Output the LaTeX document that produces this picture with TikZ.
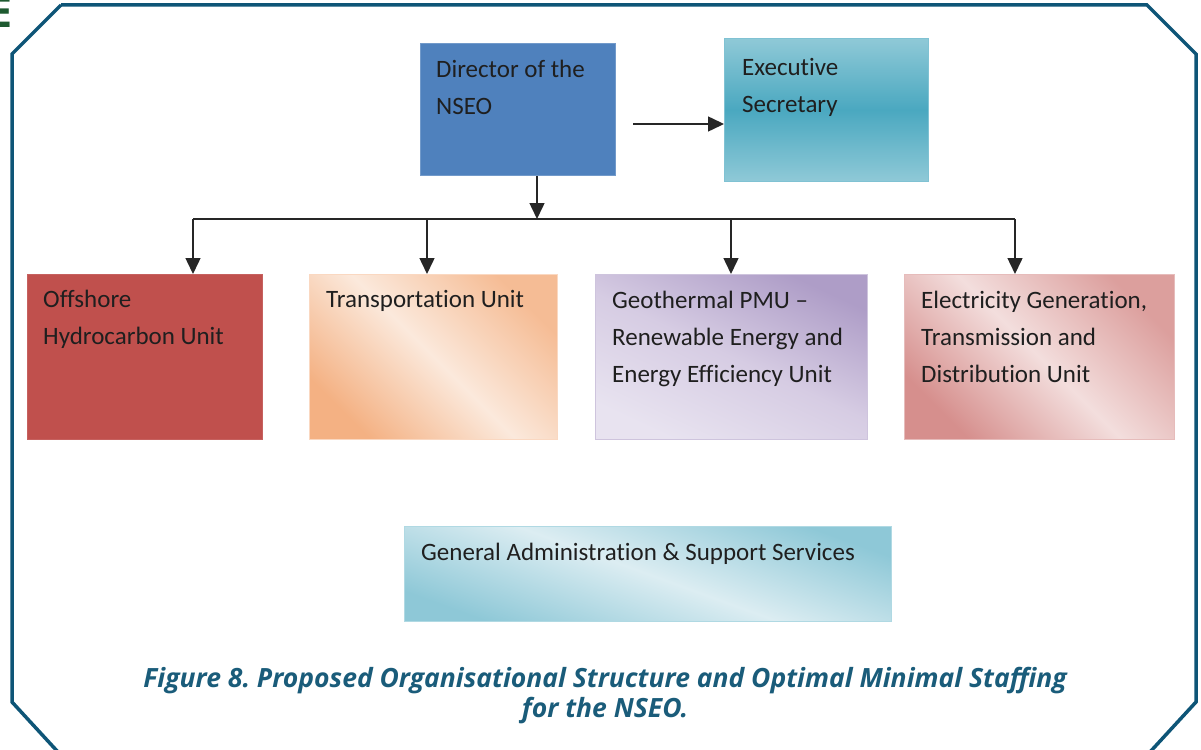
\documentclass[tikz,border=0pt]{standalone}
\usepackage{fontspec}
\setmainfont{Carlito}[Ligatures=NoCommon]
\newfontfamily\capfont{Open Sans}
\usetikzlibrary{arrows.meta}
\frenchspacing
\definecolor{framecol}{HTML}{0E5577}
\definecolor{capcol}{HTML}{1A5C7A}
\definecolor{egreen}{HTML}{1E5A30}
\definecolor{dirblue}{HTML}{4F81BD}
\definecolor{offred}{HTML}{C0504D}
\definecolor{execmid}{HTML}{4AA8C0}
\definecolor{execlight}{HTML}{8FC9D7}
\definecolor{transdark}{HTML}{F4B183}
\definecolor{translight}{HTML}{FBE9DC}
\definecolor{geodark}{HTML}{AE9DC7}
\definecolor{geomid}{HTML}{D6CCE3}
\definecolor{geolight}{HTML}{E8E3F0}
\definecolor{elecdark}{HTML}{D68F8D}
\definecolor{eleclight}{HTML}{F3DEDD}
\definecolor{gendark}{HTML}{8EC8D7}
\definecolor{genlight}{HTML}{DCEDF2}
\tikzset{
  box/.style={rectangle, anchor=north west, inner sep=0pt, line width=0.8pt},
  txt/.style={anchor=north west, inner sep=0pt, align=left, text=black!88,
              font=\fontsize{25}{37}\selectfont},
  conn/.style={draw=black!85, line width=1.5pt},
  arr/.style={conn, -{Triangle[length=16pt,width=15pt]}},
  frameline/.style={draw=framecol, line width=3.5pt, line join=miter}
}
\begin{document}
\begin{tikzpicture}[x=1pt,y=-1pt]
\useasboundingbox (0,0) rectangle (1201,749);
% frame
\draw[frameline] (61,5) -- (1147,5) -- (1196,54) -- (1196,702) -- (1150,752);
\draw[frameline] (61,5) -- (12,54) -- (12,702) -- (58,752);
\node[anchor=base east, inner sep=0pt, text=egreen,
      font=\capfont\bfseries\fontsize{43}{43}\selectfont] (eletter) at (13,28) {E};
% boxes
\node[box, fill=dirblue, draw=dirblue!80!white, minimum width=195pt, minimum height=132pt] (dir) at (420,43) {};
\node[box, top color=execlight, bottom color=execlight, middle color=execmid, draw=execmid!70!white, minimum width=204pt, minimum height=143pt] (exec) at (724,38) {};
\node[box, fill=offred, draw=offred!90!white, minimum width=235pt, minimum height=165pt] (off) at (27,274) {};
\node[box, top color=transdark, bottom color=transdark!80!translight, middle color=translight, shading angle=135, draw=transdark!50!white, minimum width=248pt, minimum height=165pt] (trans) at (309,274) {};
\node[box, top color=geodark, bottom color=geolight, middle color=geomid, shading angle=-25, draw=geodark!60!white, minimum width=272pt, minimum height=165pt] (geo) at (595,274) {};
\node[box, top color=elecdark, bottom color=elecdark!80!eleclight, middle color=eleclight, shading angle=135, draw=elecdark!60!white, minimum width=270pt, minimum height=165pt] (elec) at (904,274) {};
\node[box, top color=gendark, bottom color=gendark, middle color=genlight, shading angle=160, draw=gendark!70!white, minimum width=487pt, minimum height=95pt] (gen) at (404,526) {};
% texts
\node[txt] (dirT) at ([xshift=16pt,yshift=-17pt]dir.north west) {Director of the\\NSEO};
\node[txt] (execT) at ([xshift=18pt,yshift=-20pt]exec.north west) {Executive\\Secretary};
\node[txt] (offT) at ([xshift=16pt,yshift=-16pt]off.north west) {Offshore\\Hydrocarbon Unit};
\node[txt] (transT) at ([xshift=17pt,yshift=-16pt]trans.north west) {Transportation Unit};
\node[txt] (geoT) at ([xshift=17pt,yshift=-17pt]geo.north west) {Geothermal PMU --\\Renewable Energy and\\Energy Efficiency Unit};
\node[txt] (elecT) at ([xshift=17pt,yshift=-17pt]elec.north west) {Electricity Generation,\\Transmission and\\Distribution Unit};
\node[txt] (genT) at ([xshift=17pt,yshift=-17pt]gen.north west) {General Administration \& Support Services};
% connectors
\coordinate (ea) at (633,124);
\draw[arr] (ea) -- (ea -| exec.west);
\coordinate (bus) at (537,219);
\coordinate (d1) at (193,219);
\coordinate (d2) at (427,219);
\coordinate (d3) at (731,219);
\coordinate (d4) at (1015,219);
\draw[conn] (d1) -- (d4);
\draw[arr] (dir.south -| bus) -- (bus);
\draw[arr] (d1) -- (d1 |- off.north);
\draw[arr] (d2) -- (d2 |- trans.north);
\draw[arr] (d3) -- (d3 |- geo.north);
\draw[arr] (d4) -- (d4 |- elec.north);
% caption
\node[anchor=center, align=center, inner sep=0pt, text=capcol,
      font=\capfont\bfseries\itshape\fontsize{26.5}{30}\selectfont] (cap) at (605,696)
  {Figure 8. Proposed Organisational Structure and Optimal Minimal Staffing\\for the NSEO.};
\end{tikzpicture}
\end{document}
